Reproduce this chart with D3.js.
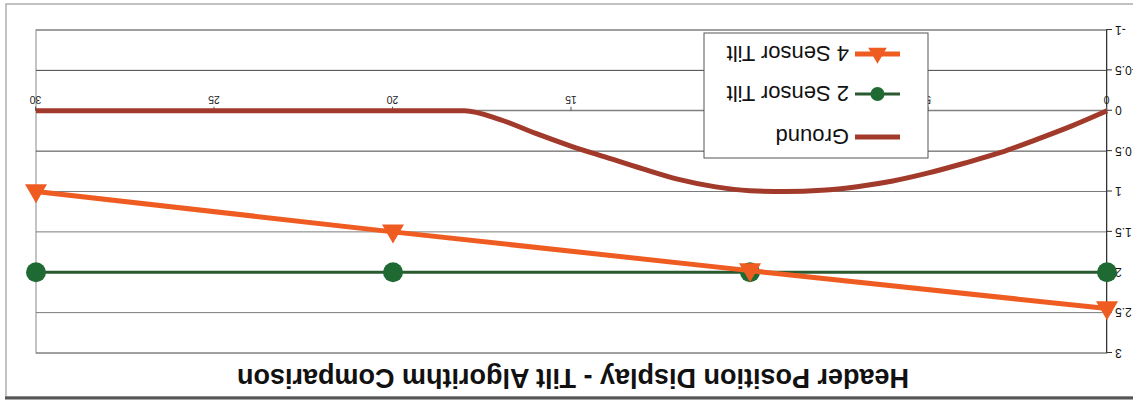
<!DOCTYPE html>
<html>
<head>
<meta charset="utf-8">
<script src="https://cdn.jsdelivr.net/npm/d3@7"></script>
<style>
  body { margin: 0; background: #fff; }
  svg { display: block; }
  text { font-family: "Liberation Sans", Arial, Helvetica, sans-serif; }
</style>
</head>
<body>
<svg id="chart" width="1133" height="400"></svg>
<script>
// Tick values
const xTicks = [0, 5, 10, 15, 20, 25, 30];
const yTicks = [-1, -0.5, 0, 0.5, 1, 1.5, 2, 2.5, 3];

// Ground profile
const groundX = [0, 1, 2, 3, 4, 5, 6, 7, 8, 9, 10, 11, 12, 13, 14, 15, 16, 17, 18, 19, 20, 21, 22, 23, 24, 25, 26, 27, 28, 29, 30];
const groundY = [0, 0.19, 0.36, 0.52, 0.65, 0.77, 0.87, 0.94, 0.985, 1.0, 0.99, 0.94, 0.85, 0.72, 0.58, 0.44, 0.28, 0.11, 0, 0, 0, 0, 0, 0, 0, 0, 0, 0, 0, 0, 0];

// Sensor readings
const sensorX = [0, 10, 20, 30];
const twoSensorTilt = [2, 2, 2, 2];
const fourSensorTilt = [2.45, 1.98, 1.5, 1.0];

const seriesNames = ["Ground", "2 Sensor Tilt", "4 Sensor Tilt"];
const chartTitle = "Header Position Display - Tilt Algorithm Comparison";

const W = 1133, H = 400;
const svg = d3.select("#chart");

// The whole sheet is printed upside down
const root = svg.append("g").attr("transform", `rotate(180 ${W / 2} ${H / 2})`);

// Sheet frame
root.append("rect")
  .attr("x", -6).attr("y", 3).attr("width", 1133).attr("height", 393)
  .attr("fill", "#fff").attr("stroke", "#9a9a9a").attr("stroke-width", 1.2);
root.append("line")
  .attr("x1", -6).attr("x2", 1128).attr("y1", 2).attr("y2", 2)
  .attr("stroke", "#555").attr("stroke-width", 3);

const x = d3.scaleLinear().domain([0, 30]).range([26, 1097]);
const y = d3.scaleLinear().domain([-1, 3]).range([370, 47]);

// Title
root.append("text")
  .attr("x", 560).attr("y", 31)
  .attr("text-anchor", "middle")
  .attr("font-size", 27).attr("font-weight", "bold")
  .attr("fill", "#111")
  .text(chartTitle);

// Plot area with horizontal gridlines
root.append("rect")
  .attr("x", x(0)).attr("y", y(3))
  .attr("width", x(30) - x(0)).attr("height", y(-1) - y(3))
  .attr("fill", "#fff").attr("stroke", "#8a8a8a").attr("stroke-width", 1);

root.append("g").selectAll("line")
  .data(yTicks)
  .join("line")
  .attr("x1", x(0)).attr("x2", x(30))
  .attr("y1", d => y(d)).attr("y2", d => y(d))
  .attr("stroke", d => d === 0.5 || d === -0.5 ? "#444" : "#7a7a7a")
  .attr("stroke-width", 1);

// Y axis
const yAxis = root.append("g")
  .attr("transform", `translate(${x(0)},0)`)
  .call(d3.axisLeft(y).tickValues(yTicks).tickSize(5).tickPadding(3).tickFormat(d => String(d)));
yAxis.select(".domain").attr("stroke", "#333");
yAxis.selectAll(".tick line").attr("stroke", "#333");
yAxis.selectAll("text").attr("font-size", 12).attr("fill", "#111")
  .style("font-family", "'Liberation Sans', Arial, sans-serif");

// X axis crossing at zero
const xAxis = root.append("g")
  .attr("transform", `translate(0,${y(0)})`)
  .call(d3.axisBottom(x).tickValues(xTicks).tickSize(4).tickPadding(3).tickFormat(d => String(d)));
xAxis.select(".domain").attr("stroke", "#7a7a7a");
xAxis.selectAll(".tick line").attr("stroke", "#555");
xAxis.selectAll("text").attr("font-size", 10.5).attr("fill", "#222")
  .style("font-family", "'Liberation Sans', Arial, sans-serif");

// Ground curve
const groundData = groundX.map((v, i) => [v, groundY[i]]);
root.append("path")
  .datum(groundData)
  .attr("fill", "none")
  .attr("stroke", "#a13a2b")
  .attr("stroke-width", 5)
  .attr("stroke-linejoin", "round")
  .attr("d", d3.line().x(d => x(d[0])).y(d => y(d[1])).curve(d3.curveMonotoneX));

// 2 Sensor Tilt
const twoData = sensorX.map((v, i) => [v, twoSensorTilt[i]]);
root.append("path")
  .datum(twoData)
  .attr("fill", "none")
  .attr("stroke", "#2a5a30")
  .attr("stroke-width", 3)
  .attr("d", d3.line().x(d => x(d[0])).y(d => y(d[1])));
root.append("g").selectAll("circle")
  .data(twoData)
  .join("circle")
  .attr("cx", d => x(d[0])).attr("cy", d => y(d[1]))
  .attr("r", 10)
  .attr("fill", "#1f6a33");

// 4 Sensor Tilt
const triangle = d3.symbol().type(d3.symbolTriangle).size(210);
const fourData = sensorX.map((v, i) => [v, fourSensorTilt[i]]);
root.append("path")
  .datum(fourData)
  .attr("fill", "none")
  .attr("stroke", "#ef5c22")
  .attr("stroke-width", 5)
  .attr("d", d3.line().x(d => x(d[0])).y(d => y(d[1])));
root.append("g").selectAll("path")
  .data(fourData)
  .join("path")
  .attr("transform", d => `translate(${x(d[0])},${y(d[1]) + 1})`)
  .attr("d", triangle)
  .attr("fill", "#ef5c22");

// Legend
const legend = root.append("g");
legend.append("rect")
  .attr("x", 205).attr("y", 242).attr("width", 224).attr("height", 125)
  .attr("fill", "#fff").attr("stroke", "#555").attr("stroke-width", 1);

const legendRows = [263, 306, 346];
const item = legend.selectAll("g.item")
  .data(seriesNames)
  .join("g")
  .attr("class", "item")
  .attr("transform", (d, i) => `translate(0,${legendRows[i]})`);

item.append("line")
  .attr("x1", 233).attr("x2", 278).attr("y1", 0).attr("y2", 0)
  .attr("stroke", (d, i) => ["#a13a2b", "#2a5a30", "#ef5c22"][i])
  .attr("stroke-width", (d, i) => [5, 3, 5][i]);

item.filter((d, i) => i === 1).append("circle")
  .attr("cx", 255.5).attr("cy", 0).attr("r", 7).attr("fill", "#1f6a33");
item.filter((d, i) => i === 2).append("path")
  .attr("transform", "translate(255.5,1)")
  .attr("d", d3.symbol().type(d3.symbolTriangle).size(150))
  .attr("fill", "#ef5c22");

item.append("text")
  .attr("x", 284).attr("y", 8)
  .attr("font-size", 22)
  .attr("fill", "#111")
  .text(d => d);
</script>
</body>
</html>
